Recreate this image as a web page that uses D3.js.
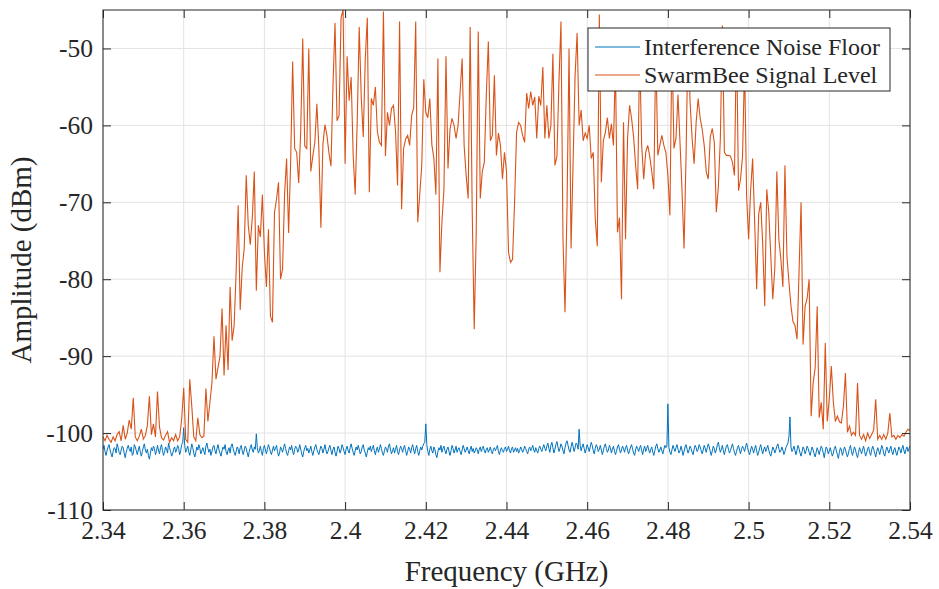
<!DOCTYPE html>
<html>
<head>
<meta charset="utf-8">
<script src="https://cdn.jsdelivr.net/npm/d3@7"></script>
<style>
  body { margin: 0; background: #fff; }
  text { font-family: "Liberation Serif", "Times New Roman", serif; fill: #262626; }
</style>
</head>
<body>
<svg id="chart" width="939" height="589"></svg>
<script>
// Sweep grids (GHz): both traces start at 2.34 GHz
const freqStart = 2.34;
const noiseStep = 0.00025;   // 0.25 MHz between noise-floor readings
const signalStep = 0.0005;   // 0.5 MHz between signal readings

// Interference noise floor (dBm)
const noiseFloor = [
  -102.1,-101.6,-102.4,-102.9,-102.3,-101.8,-101.5,-102.2,-102.7,-103.1,-102.4,-101.9,-102.0,-102.6,-101.4,-101.9,-102.5,-102.8,-102.2,-101.7,
  -101.9,-102.6,-103.2,-102.5,-102.0,-101.6,-102.1,-102.4,-101.8,-102.9,-102.7,-101.5,-101.8,-102.3,-102.8,-102.2,-101.7,-102.5,-103.0,-102.4,
  -101.8,-101.4,-102.2,-102.6,-102.1,-102.9,-103.4,-102.6,-101.9,-102.3,-101.7,-102.0,-102.8,-102.4,-101.6,-102.2,-102.7,-101.9,-101.5,-102.3,
  -102.9,-102.5,-101.8,-102.1,-102.6,-101.3,-101.9,-102.4,-103.0,-102.7,-102.1,-101.8,-102.5,-102.2,-101.6,-102.0,-102.8,-102.3,-101.5,-101.2,
  -99.3,-101.6,-102.5,-102.1,-101.7,-102.4,-102.9,-102.2,-101.4,-101.9,-102.6,-103.1,-102.5,-101.8,-102.2,-101.5,-102.0,-102.7,-102.3,-101.9,
  -102.4,-102.8,-101.7,-101.3,-102.0,-102.5,-102.1,-102.9,-102.4,-101.8,-101.6,-102.3,-102.7,-102.0,-101.5,-102.2,-102.6,-103.0,-102.3,-101.8,
  -102.1,-101.5,-102.4,-102.8,-102.2,-101.9,-102.6,-101.7,-101.4,-102.0,-102.5,-102.9,-102.4,-101.8,-102.1,-102.7,-101.9,-101.6,-102.3,-102.8,
  -102.2,-101.7,-102.0,-102.6,-103.1,-102.4,-101.9,-101.5,-102.2,-102.5,-101.8,-102.1,-100.1,-101.9,-102.6,-102.3,-101.7,-102.4,-102.9,-102.0,
  -101.6,-102.2,-102.7,-102.1,-101.5,-101.9,-102.5,-102.8,-102.2,-101.7,-102.3,-102.0,-101.6,-102.4,-103.0,-102.6,-101.8,-102.1,-102.5,-101.9,
  -101.4,-102.0,-102.6,-102.9,-102.3,-101.8,-102.2,-101.6,-102.4,-102.8,-102.1,-101.7,-101.9,-102.5,-102.2,-101.5,-102.1,-102.7,-103.1,-102.4,
  -101.9,-101.6,-102.3,-102.0,-102.6,-102.2,-101.7,-102.4,-102.9,-102.3,-101.8,-101.5,-102.1,-102.5,-102.8,-102.2,-101.7,-102.0,-102.6,-102.1,
  -101.5,-102.2,-102.7,-102.4,-101.9,-101.6,-102.3,-102.8,-102.1,-101.8,-102.5,-103.0,-102.4,-101.7,-102.0,-102.6,-102.2,-101.5,-101.9,-102.4,
  -102.8,-102.1,-101.7,-102.3,-102.6,-101.9,-101.4,-102.0,-102.5,-102.9,-102.3,-101.8,-102.2,-101.6,-102.1,-102.7,-102.4,-101.8,-101.5,-102.2,
  -102.6,-103.1,-102.5,-101.9,-102.2,-101.7,-102.4,-102.0,-101.6,-102.3,-102.8,-102.2,-101.8,-102.5,-102.1,-101.5,-102.0,-102.6,-102.9,-102.3,
  -101.8,-102.1,-102.5,-101.7,-101.4,-102.2,-102.7,-102.3,-101.9,-102.6,-102.1,-101.6,-102.4,-102.8,-102.2,-101.7,-102.0,-102.5,-101.9,-101.6,
  -102.3,-102.9,-102.4,-101.8,-102.1,-102.6,-101.9,-101.5,-102.2,-102.7,-102.0,-101.6,-102.4,-102.9,-102.3,-101.8,-102.2,-101.7,-101.4,-101.2,
  -98.8,-101.5,-102.4,-102.9,-102.1,-101.7,-102.3,-102.6,-101.8,-102.1,-102.8,-103.2,-102.4,-101.9,-102.2,-101.6,-102.5,-102.0,-101.7,-102.3,
  -102.7,-102.1,-101.8,-102.4,-102.9,-102.3,-101.6,-102.0,-102.6,-102.2,-101.7,-102.5,-102.1,-101.9,-102.4,-102.8,-102.2,-101.6,-102.0,-102.5,
  -102.2,-101.8,-102.3,-102.7,-102.1,-101.7,-102.4,-102.0,-102.6,-102.3,-101.9,-102.2,-102.7,-102.1,-101.8,-102.4,-102.0,-101.7,-102.3,-102.6,
  -102.1,-101.9,-102.5,-102.2,-101.8,-102.4,-102.7,-102.1,-101.9,-102.3,-102.0,-101.6,-102.4,-102.8,-102.2,-101.9,-102.3,-102.5,-102.0,-101.8,
  -102.4,-102.1,-101.7,-102.3,-102.6,-102.0,-101.8,-102.5,-102.2,-101.9,-102.4,-102.0,-102.6,-102.3,-101.8,-102.1,-102.5,-102.2,-101.7,-102.0,
  -102.4,-102.7,-102.1,-101.8,-102.3,-102.0,-101.6,-102.2,-102.5,-101.9,-102.3,-102.6,-102.0,-101.7,-102.1,-102.4,-101.9,-101.5,-102.0,-102.3,
  -101.7,-101.3,-102.0,-102.5,-101.6,-101.2,-101.9,-102.6,-102.1,-101.5,-101.1,-101.8,-102.4,-102.0,-101.4,-101.7,-102.3,-102.7,-101.9,-101.3,
  -101.0,-101.6,-102.2,-102.5,-101.8,-101.2,-101.7,-102.4,-101.9,-101.3,-101.5,-102.1,-99.5,-101.6,-102.3,-101.8,-101.4,-102.0,-102.6,-102.1,
  -101.5,-101.9,-102.4,-101.8,-101.2,-101.6,-102.3,-102.7,-102.0,-101.5,-101.8,-102.4,-102.1,-101.6,-102.2,-102.8,-102.3,-101.7,-101.4,-102.0,
  -102.5,-102.2,-101.6,-101.9,-102.6,-102.1,-101.7,-102.3,-102.8,-102.4,-101.8,-101.5,-102.1,-102.6,-102.2,-101.7,-102.0,-102.5,-101.9,-101.6,
  -102.2,-102.7,-102.3,-101.8,-101.5,-102.1,-102.6,-102.9,-102.2,-101.7,-102.0,-102.4,-101.9,-101.6,-102.3,-102.8,-102.1,-101.7,-102.4,-102.0,
  -101.6,-102.2,-102.6,-102.1,-101.8,-102.5,-102.9,-102.3,-101.7,-101.4,-102.0,-102.5,-102.2,-101.8,-102.3,-102.7,-102.1,-101.6,-101.9,-101.7,
  -96.2,-101.9,-102.5,-102.8,-102.2,-101.6,-102.0,-102.4,-101.9,-101.5,-102.1,-102.6,-102.3,-101.7,-102.2,-102.9,-102.4,-101.8,-101.5,-102.1,
  -102.6,-102.2,-101.7,-102.0,-102.5,-102.8,-102.1,-101.6,-101.9,-102.4,-102.1,-101.5,-101.8,-102.3,-102.7,-102.2,-101.6,-102.0,-102.5,-101.9,
  -101.4,-101.8,-102.4,-102.9,-102.3,-101.7,-102.0,-102.6,-102.2,-101.5,-101.2,-101.9,-102.5,-102.1,-101.6,-102.3,-102.8,-102.2,-101.7,-101.5,
  -102.1,-102.6,-102.3,-101.8,-101.4,-102.0,-102.5,-102.9,-102.4,-101.9,-101.6,-102.2,-102.7,-102.1,-101.7,-102.0,-102.4,-101.8,-101.3,-101.9,
  -102.5,-102.8,-102.2,-101.7,-102.1,-102.6,-102.0,-101.6,-102.3,-102.9,-102.5,-101.9,-101.5,-102.2,-102.7,-102.1,-101.8,-102.4,-102.0,-101.6,
  -102.2,-102.7,-103.0,-102.4,-101.8,-102.1,-102.6,-102.2,-101.7,-101.4,-102.0,-102.5,-102.3,-101.8,-102.2,-102.8,-102.4,-101.9,-101.6,-101.3,
  -100.5,-97.9,-101.8,-102.4,-102.1,-101.7,-102.3,-102.8,-102.2,-101.6,-102.0,-102.6,-103.0,-102.4,-101.8,-102.1,-102.7,-102.3,-101.7,-102.0,
  -102.5,-102.9,-102.3,-101.8,-102.2,-102.7,-103.1,-102.5,-101.9,-102.3,-102.8,-102.2,-101.7,-102.0,-102.6,-103.2,-102.4,-101.8,-102.1,-102.7,
  -102.3,-101.9,-102.5,-103.0,-102.6,-102.0,-101.7,-102.3,-102.8,-103.3,-102.5,-101.9,-102.2,-102.9,-102.4,-101.8,-102.1,-102.7,-103.1,-102.6,
  -102.0,-101.6,-102.4,-102.9,-102.3,-101.8,-102.2,-102.8,-103.2,-102.5,-101.9,-102.3,-102.7,-102.1,-101.7,-102.4,-103.0,-102.6,-102.0,-101.8,
  -102.5,-102.9,-102.2,-101.7,-102.1,-102.6,-103.1,-102.4,-101.9,-102.3,-102.8,-102.2,-101.6,-102.0,-102.7,-103.0,-102.3,-101.8,-102.2,-102.6,
  -102.1,-101.7,-102.4,-102.8,-102.2,-101.9,-102.5,-102.9,-102.3,-101.8,-102.1,-102.6,-102.0,-101.6,-102.3,-102.7,-102.1,-101.8,-102.4,-102.0,
  -101.7
];

// SwarmBee signal level (dBm)
const signalLevel = [
  -100.5,-101,-100.3,-100.8,-101.2,-100.5,-101,-100.2,-99.8,-101,
  -99,-100.8,-100,-98.3,-99.5,-95.4,-100.5,-101,-100.4,-99.5,
  -100.8,-100.3,-99,-95.2,-100.2,-98.8,-100.5,-94.6,-99.2,-100.6,
  -100.9,-100.3,-99.8,-101.2,-100.6,-101,-100.2,-101,-100.5,-98.2,
  -94.1,-100.8,-101.2,-93,-96.5,-100.5,-101,-98,-100.2,-100.6,
  -100.4,-94.2,-98.5,-96,-93.5,-87.4,-93,-91.5,-90,-83.8,
  -92.5,-86,-91.8,-81,-88,-86,-79,-70.4,-84,-78.5,
  -76,-66.5,-73,-75.5,-72,-66,-81.5,-73,-74.5,-69,
  -76.5,-81,-73.5,-84.8,-85.6,-71.3,-69.6,-67.4,-80,-78.7,
  -69,-64.3,-74,-64.8,-51.7,-63,-63.5,-67.5,-60.8,-48.7,
  -62.7,-63,-50,-66,-64,-62.2,-57.2,-63,-73.3,-62.5,
  -59.9,-61.3,-63.6,-65.3,-54.8,-46.7,-59.4,-58.7,-46,-45,
  -65,-51,-56.8,-53.7,-63.9,-69,-59.6,-47.2,-56.3,-61.5,
  -51.3,-46,-68.7,-56.5,-57.4,-55,-60.8,-62.2,-62.6,-45.2,
  -64,-58.3,-60,-57.8,-57.4,-60.8,-67.8,-46.5,-70.9,-63,
  -61.8,-61.3,-62.6,-58.7,-57.7,-46.5,-72.6,-69,-65.2,-54,
  -58.3,-59,-56.5,-62.5,-64.3,-69,-51.3,-79.1,-72.5,-68.3,
  -51,-65.6,-60.5,-59.1,-60,-61.7,-60,-55.7,-51.3,-62.6,
  -66.5,-69.5,-47.2,-71,-86.5,-73.9,-47.8,-69.5,-66,-64.8,
  -56,-49.1,-62,-61.3,-53.5,-63.9,-61,-62.6,-67,-63.5,
  -66,-76.5,-77.8,-77.4,-70,-60.9,-59.6,-60,-61.3,-62.2,
  -55.8,-57.8,-55.6,-57.4,-56.3,-61.7,-56.2,-57.4,-52.4,-61.7,
  -57.4,-61.7,-60,-50.7,-65.2,-64,-54.3,-46.5,-74.8,-84.3,
  -70.5,-50,-76,-65,-53.5,-48,-60,-58,-62,-61,
  -61.7,-60,-64.3,-63.5,-72.2,-75.7,-45.6,-67.4,-62,-60.9,
  -59,-61.7,-59.8,-62.6,-52,-73.9,-72,-82.6,-59.6,-74.8,
  -61.7,-57.4,-59.1,-61.5,-65.2,-68.3,-50.5,-62.5,-67,-63.5,
  -62.6,-64,-66,-68.3,-50,-63.9,-62.6,-61.3,-62.6,-63.5,
  -66.5,-71.7,-49,-63,-61.7,-56,-62.2,-68.5,-76,-64,
  -48,-57,-61.7,-65,-59.6,-56.5,-59.1,-60.5,-62.6,-66,
  -67,-61.5,-60.4,-62.2,-71.3,-68,-61.7,-47,-63.5,-63.9,
  -63.9,-64,-64.8,-66.5,-48,-68.5,-67,-64,-52,-69,
  -74.8,-68.5,-64.3,-72.5,-81.3,-71.5,-70,-75.5,-83.5,-68.3,
  -71.3,-77,-82.6,-78.5,-66,-74.8,-77.4,-81,-65.2,-77,
  -80.4,-83.5,-85.5,-86,-87.8,-79.1,-70,-88.5,-83.5,-82.5,
  -80,-97.8,-93.5,-91.5,-83.5,-98,-96,-99.5,-88.3,-98.5,
  -95.5,-91.3,-96,-98.5,-97.8,-98.5,-98.7,-96.5,-92.2,-99.9,
  -99.1,-100.3,-99.9,-100.3,-93.5,-100.3,-100.8,-100.2,-101,-100,
  -100.7,-100.2,-99.6,-95.6,-100.8,-100.3,-100.8,-100.2,-100.8,-100,
  -97.4,-100.5,-100.3,-100.8,-100.3,-100.6,-100.2,-100.4,-99.9,-99.5,
  -99.7
];

const xTicks = [2.34, 2.36, 2.38, 2.40, 2.42, 2.44, 2.46, 2.48, 2.50, 2.52, 2.54];
const xTickLabels = ["2.34", "2.36", "2.38", "2.4", "2.42", "2.44", "2.46", "2.48", "2.5", "2.52", "2.54"];
const yTicks = [-110, -100, -90, -80, -70, -60, -50];
const yTickLabels = ["-110", "-100", "-90", "-80", "-70", "-60", "-50"];
const seriesNames = ["Interference Noise Floor", "SwarmBee Signal Level"];
const seriesColors = ["#0072BD", "#D95319"];

const W = 939, H = 589;
const margin = { top: 10, right: 29, bottom: 79, left: 103 };
const iw = W - margin.left - margin.right;
const ih = H - margin.top - margin.bottom;

const svg = d3.select("#chart");
const g = svg.append("g").attr("transform", `translate(${margin.left},${margin.top})`);

const x = d3.scaleLinear().domain([2.34, 2.54]).range([0, iw]);
const y = d3.scaleLinear().domain([-110, -45]).range([ih, 0]);

// grid
g.append("g").selectAll("line").data(xTicks).join("line")
  .attr("x1", d => x(d)).attr("x2", d => x(d)).attr("y1", 0).attr("y2", ih)
  .attr("stroke", "#e3e3e3").attr("stroke-width", 1);
g.append("g").selectAll("line").data(yTicks).join("line")
  .attr("x1", 0).attr("x2", iw).attr("y1", d => y(d)).attr("y2", d => y(d))
  .attr("stroke", "#e3e3e3").attr("stroke-width", 1);

// traces
g.append("clipPath").attr("id", "plotClip")
  .append("rect").attr("width", iw).attr("height", ih);

const lineFor = step => d3.line()
  .x((d, i) => x(freqStart + i * step))
  .y(d => y(d));

const traces = g.append("g").attr("clip-path", "url(#plotClip)");
[[noiseFloor, noiseStep, 1], [signalLevel, signalStep, 1.1]].forEach(([series, step, sw], k) => {
  traces.append("path")
    .datum(series)
    .attr("d", lineFor(step))
    .attr("fill", "none")
    .attr("stroke", seriesColors[k])
    .attr("stroke-width", sw)
    .attr("stroke-linejoin", "miter");
});

// axes with inward ticks on all four sides
const fmtX = (d, i) => xTickLabels[i];
const fmtY = (d, i) => yTickLabels[i];

const axB = g.append("g").attr("transform", `translate(0,${ih})`)
  .call(d3.axisBottom(x).tickValues(xTicks).tickFormat(fmtX).tickSizeInner(-8).tickSizeOuter(0).tickPadding(11));
const axL = g.append("g")
  .call(d3.axisLeft(y).tickValues(yTicks).tickFormat(fmtY).tickSizeInner(-8).tickSizeOuter(0).tickPadding(10));
const axT = g.append("g")
  .call(d3.axisTop(x).tickValues(xTicks).tickFormat("").tickSizeInner(-8).tickSizeOuter(0));
const axR = g.append("g").attr("transform", `translate(${iw},0)`)
  .call(d3.axisRight(y).tickValues(yTicks).tickFormat("").tickSizeInner(-8).tickSizeOuter(0));

[axB, axL, axT, axR].forEach(a => {
  a.select(".domain").remove();
  a.selectAll(".tick line").attr("stroke", "#262626");
  a.selectAll(".tick text").attr("font-size", 25.5).attr("fill", "#262626")
    .style("font-family", '"Liberation Serif", "Times New Roman", serif');
});

g.append("rect").attr("width", iw).attr("height", ih)
  .attr("fill", "none").attr("stroke", "#262626").attr("stroke-width", 1);

// axis titles
svg.append("text")
  .attr("x", margin.left + iw / 2).attr("y", 581)
  .attr("text-anchor", "middle").attr("font-size", 29)
  .text("Frequency (GHz)");
svg.append("text")
  .attr("transform", `translate(31,${margin.top + ih / 2}) rotate(-90)`)
  .attr("text-anchor", "middle").attr("font-size", 29)
  .text("Amplitude (dBm)");

// legend
const leg = svg.append("g").attr("transform", "translate(588,28)");
leg.append("rect").attr("width", 302).attr("height", 63)
  .attr("fill", "#fff").attr("stroke", "#262626").attr("stroke-width", 1);
seriesNames.forEach((name, k) => {
  const ly = 19 + k * 28;
  leg.append("line").attr("x1", 7).attr("x2", 52).attr("y1", ly).attr("y2", ly)
    .attr("stroke", seriesColors[k]).attr("stroke-width", 1);
  leg.append("text").attr("x", 56).attr("y", ly).attr("dy", "0.35em")
    .attr("font-size", 24).text(name);
});
</script>
</body>
</html>
